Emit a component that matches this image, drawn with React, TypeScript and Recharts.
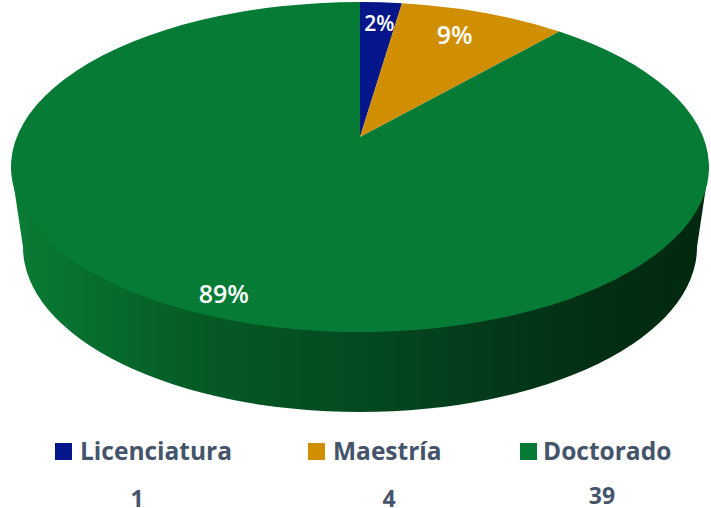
import { Legend, Pie, PieChart } from "recharts";

const categories = ["Licenciatura", "Maestría", "Doctorado"];
const counts = [1, 4, 39];
const colors = ["#04168a", "#d08e02", "#067b36"];

const legendSquares = [55, 308, 520];
const legendTexts = [80, 333, 543];
const countCenters = [137, 389, 602];
const countTops = [489, 489, 486];

const labelReach = [0.83, 0.79, 0.89];
const labelShiftX = [2, -3, -6];
const labelShiftY = [-2, -5, -4];
const labelSizes = [21, 25, 25];

const data = categories.map((name, i) => ({
  name,
  value: counts[i],
  fill: colors[i],
}));

// the top face is an ellipse, the apex sits above its middle (perspective)
const TOP = { cx: 360, cy: 167, rx: 349, ry: 165 };
const BOTTOM = { cx: 360, cy: 247, rx: 337, ry: 165 };
const STRETCH = 2.18;
const LEGEND_TOP = 420;

// where a ray from the apex at data angle `cw` (clockwise from 12 o'clock) meets the rim
function rimPoint(ax: number, ay: number, cw: number) {
  const rad = (cw * Math.PI) / 180;
  const dx = Math.sin(rad) * STRETCH;
  const dy = -Math.cos(rad);
  const ox = (ax - TOP.cx) / TOP.rx;
  const oy = (ay - TOP.cy) / TOP.ry;
  const ux = dx / TOP.rx;
  const uy = dy / TOP.ry;
  const a = ux * ux + uy * uy;
  const b = 2 * (ox * ux + oy * uy);
  const c = ox * ox + oy * oy - 1;
  const s = (-b + Math.sqrt(b * b - 4 * a * c)) / (2 * a);
  return { x: ax + dx * s, y: ay + dy * s };
}

function rimAngle(p: { x: number; y: number }) {
  return Math.atan2((p.x - TOP.cx) / TOP.rx, -(p.y - TOP.cy) / TOP.ry);
}

function EllipseSlice(props: any) {
  const { cx, cy, startAngle, endAngle, fill } = props;
  const cwStart = 90 - startAngle;
  const cwEnd = 90 - endAngle;
  const p1 = rimPoint(cx, cy, cwStart);
  const p2 = rimPoint(cx, cy, cwEnd);
  let span = rimAngle(p2) - rimAngle(p1);
  if (span <= 0) span += Math.PI * 2;
  const large = span > Math.PI ? 1 : 0;
  const top = `M${cx},${cy} L${p1.x},${p1.y} A${TOP.rx},${TOP.ry} 0 ${large} 1 ${p2.x},${p2.y} Z`;
  // only the slice that holds the front of the disc shows its wall
  const hasWall = cwStart <= 90 && cwEnd >= 270;
  const wall =
    `M${TOP.cx - TOP.rx},${TOP.cy} L${BOTTOM.cx - BOTTOM.rx},${BOTTOM.cy} ` +
    `A${BOTTOM.rx},${BOTTOM.ry} 0 0 0 ${BOTTOM.cx + BOTTOM.rx},${BOTTOM.cy} ` +
    `L${TOP.cx + TOP.rx},${TOP.cy} Z`;
  return (
    <g>
      {hasWall && (
        <>
          <defs>
            <linearGradient id="wallShade" x1="0" y1="0" x2="1" y2="0">
              <stop offset="0%" stopColor="#0a7c35" />
              <stop offset="13%" stopColor="#076c2e" />
              <stop offset="27%" stopColor="#055a26" />
              <stop offset="49%" stopColor="#044a20" />
              <stop offset="70%" stopColor="#03391a" />
              <stop offset="85%" stopColor="#022e14" />
              <stop offset="100%" stopColor="#02280f" />
            </linearGradient>
          </defs>
          <path d={wall} fill="url(#wallShade)" />
        </>
      )}
      <path d={top} fill={fill} />
    </g>
  );
}

function SliceLabel(props: any) {
  const { cx, cy, midAngle, percent, index } = props;
  const rim = rimPoint(cx, cy, 90 - midAngle);
  const x = cx + (rim.x - cx) * labelReach[index] + labelShiftX[index];
  const y = cy + (rim.y - cy) * labelReach[index] + labelShiftY[index];
  return (
    <text
      x={x}
      y={y}
      fill="#ffffff"
      textAnchor="middle"
      dominantBaseline="central"
      fontFamily="Open Sans"
      fontWeight={600}
      fontSize={labelSizes[index]}
    >
      {`${Math.round(percent * 100)}%`}
    </text>
  );
}

function LegendRows() {
  return (
    <div style={{ position: "relative", width: 711, height: 88, fontFamily: "Open Sans", color: "#44546a" }}>
      {categories.map((name, i) => (
        <div key={name}>
          <div
            style={{
              position: "absolute",
              left: legendSquares[i],
              top: 23,
              width: 17,
              height: 17,
              background: colors[i],
            }}
          />
          <div
            style={{
              position: "absolute",
              left: legendTexts[i],
              top: 14,
              fontSize: 24.5,
              fontWeight: 700,
              lineHeight: "34px",
              whiteSpace: "nowrap",
            }}
          >
            {name}
          </div>
          <div
            style={{
              position: "absolute",
              left: countCenters[i] - 30,
              width: 60,
              top: countTops[i] - LEGEND_TOP,
              textAlign: "center",
              fontSize: 23,
              fontWeight: 700,
              lineHeight: "18px",
            }}
          >
            {counts[i]}
          </div>
        </div>
      ))}
    </div>
  );
}

export default function App() {
  return (
    <div style={{ position: "absolute", left: 0, top: 0, width: 711, height: 508, background: "#ffffff" }}>
      <PieChart width={711} height={508} margin={{ top: 0, right: 0, bottom: 0, left: 0 }}>
        <Pie
          data={data}
          dataKey="value"
          nameKey="name"
          cx={360}
          cy={137}
          outerRadius={130}
          startAngle={90}
          endAngle={-270}
          stroke="none"
          shape={EllipseSlice}
          label={SliceLabel}
          labelLine={false}
          isAnimationActive={false}
        />
        <Legend content={LegendRows} wrapperStyle={{ left: 0, top: LEGEND_TOP, width: 711, height: 88 }} />
      </PieChart>
    </div>
  );
}
